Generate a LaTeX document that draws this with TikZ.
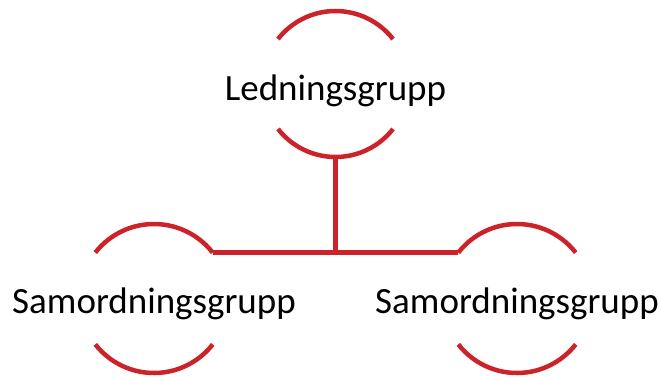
\documentclass[tikz,border=0pt]{standalone}
\usepackage{fontspec}
\setmainfont{Carlito}
\usetikzlibrary{calc}
\definecolor{orgred}{RGB}{204,34,41}
\begin{document}
\begin{tikzpicture}[x=1pt,y=1pt,
  arcline/.style={draw=orgred, line width=4.5pt},
  lbl/.style={font=\fontsize{37}{44}\selectfont, anchor=base, inner sep=0pt}]
\useasboundingbox (0,0) rectangle (660,376);
\coordinate (cT) at (335.5,292);
\coordinate (cL) at (154,77.5);
\coordinate (cR) at (517,77.5);
% top circle
\draw[arcline] ($(cT)+(38:73)$) arc[start angle=38,end angle=142,radius=73];
\draw[arcline] ($(cT)+(218:73)$) arc[start angle=218,end angle=322,radius=73];
% left circle
\draw[arcline] ($(cL)+(38:74.5)$) arc[start angle=38,end angle=142,radius=74.5];
\draw[arcline] ($(cL)+(218:74.5)$) arc[start angle=218,end angle=322,radius=74.5];
% right circle
\draw[arcline] ($(cR)+(38:74.5)$) arc[start angle=38,end angle=142,radius=74.5];
\draw[arcline] ($(cR)+(218:74.5)$) arc[start angle=218,end angle=322,radius=74.5];
% labels
\node[lbl] (lead) at ($(cT)+(0,-16)$) {Ledningsgrupp};
\node[lbl] (samL) at ($(cL)+(0,-15)$) {Samordningsgrupp};
\node[lbl] (samR) at ($(cR)+(0,-15)$) {Samordningsgrupp};
% connectors
\coordinate (Tbot) at ($(cT)+(0,-73)$);
\coordinate (Lend) at ($(cL)+(38:74.5)$);
\coordinate (Rend) at ($(cR)+(142:74.5)$);
\coordinate (junc) at (Tbot |- Lend);
\draw[arcline] (Tbot) -- (junc);
\draw[arcline] (Lend) -- (Rend);
\end{tikzpicture}
\end{document}
